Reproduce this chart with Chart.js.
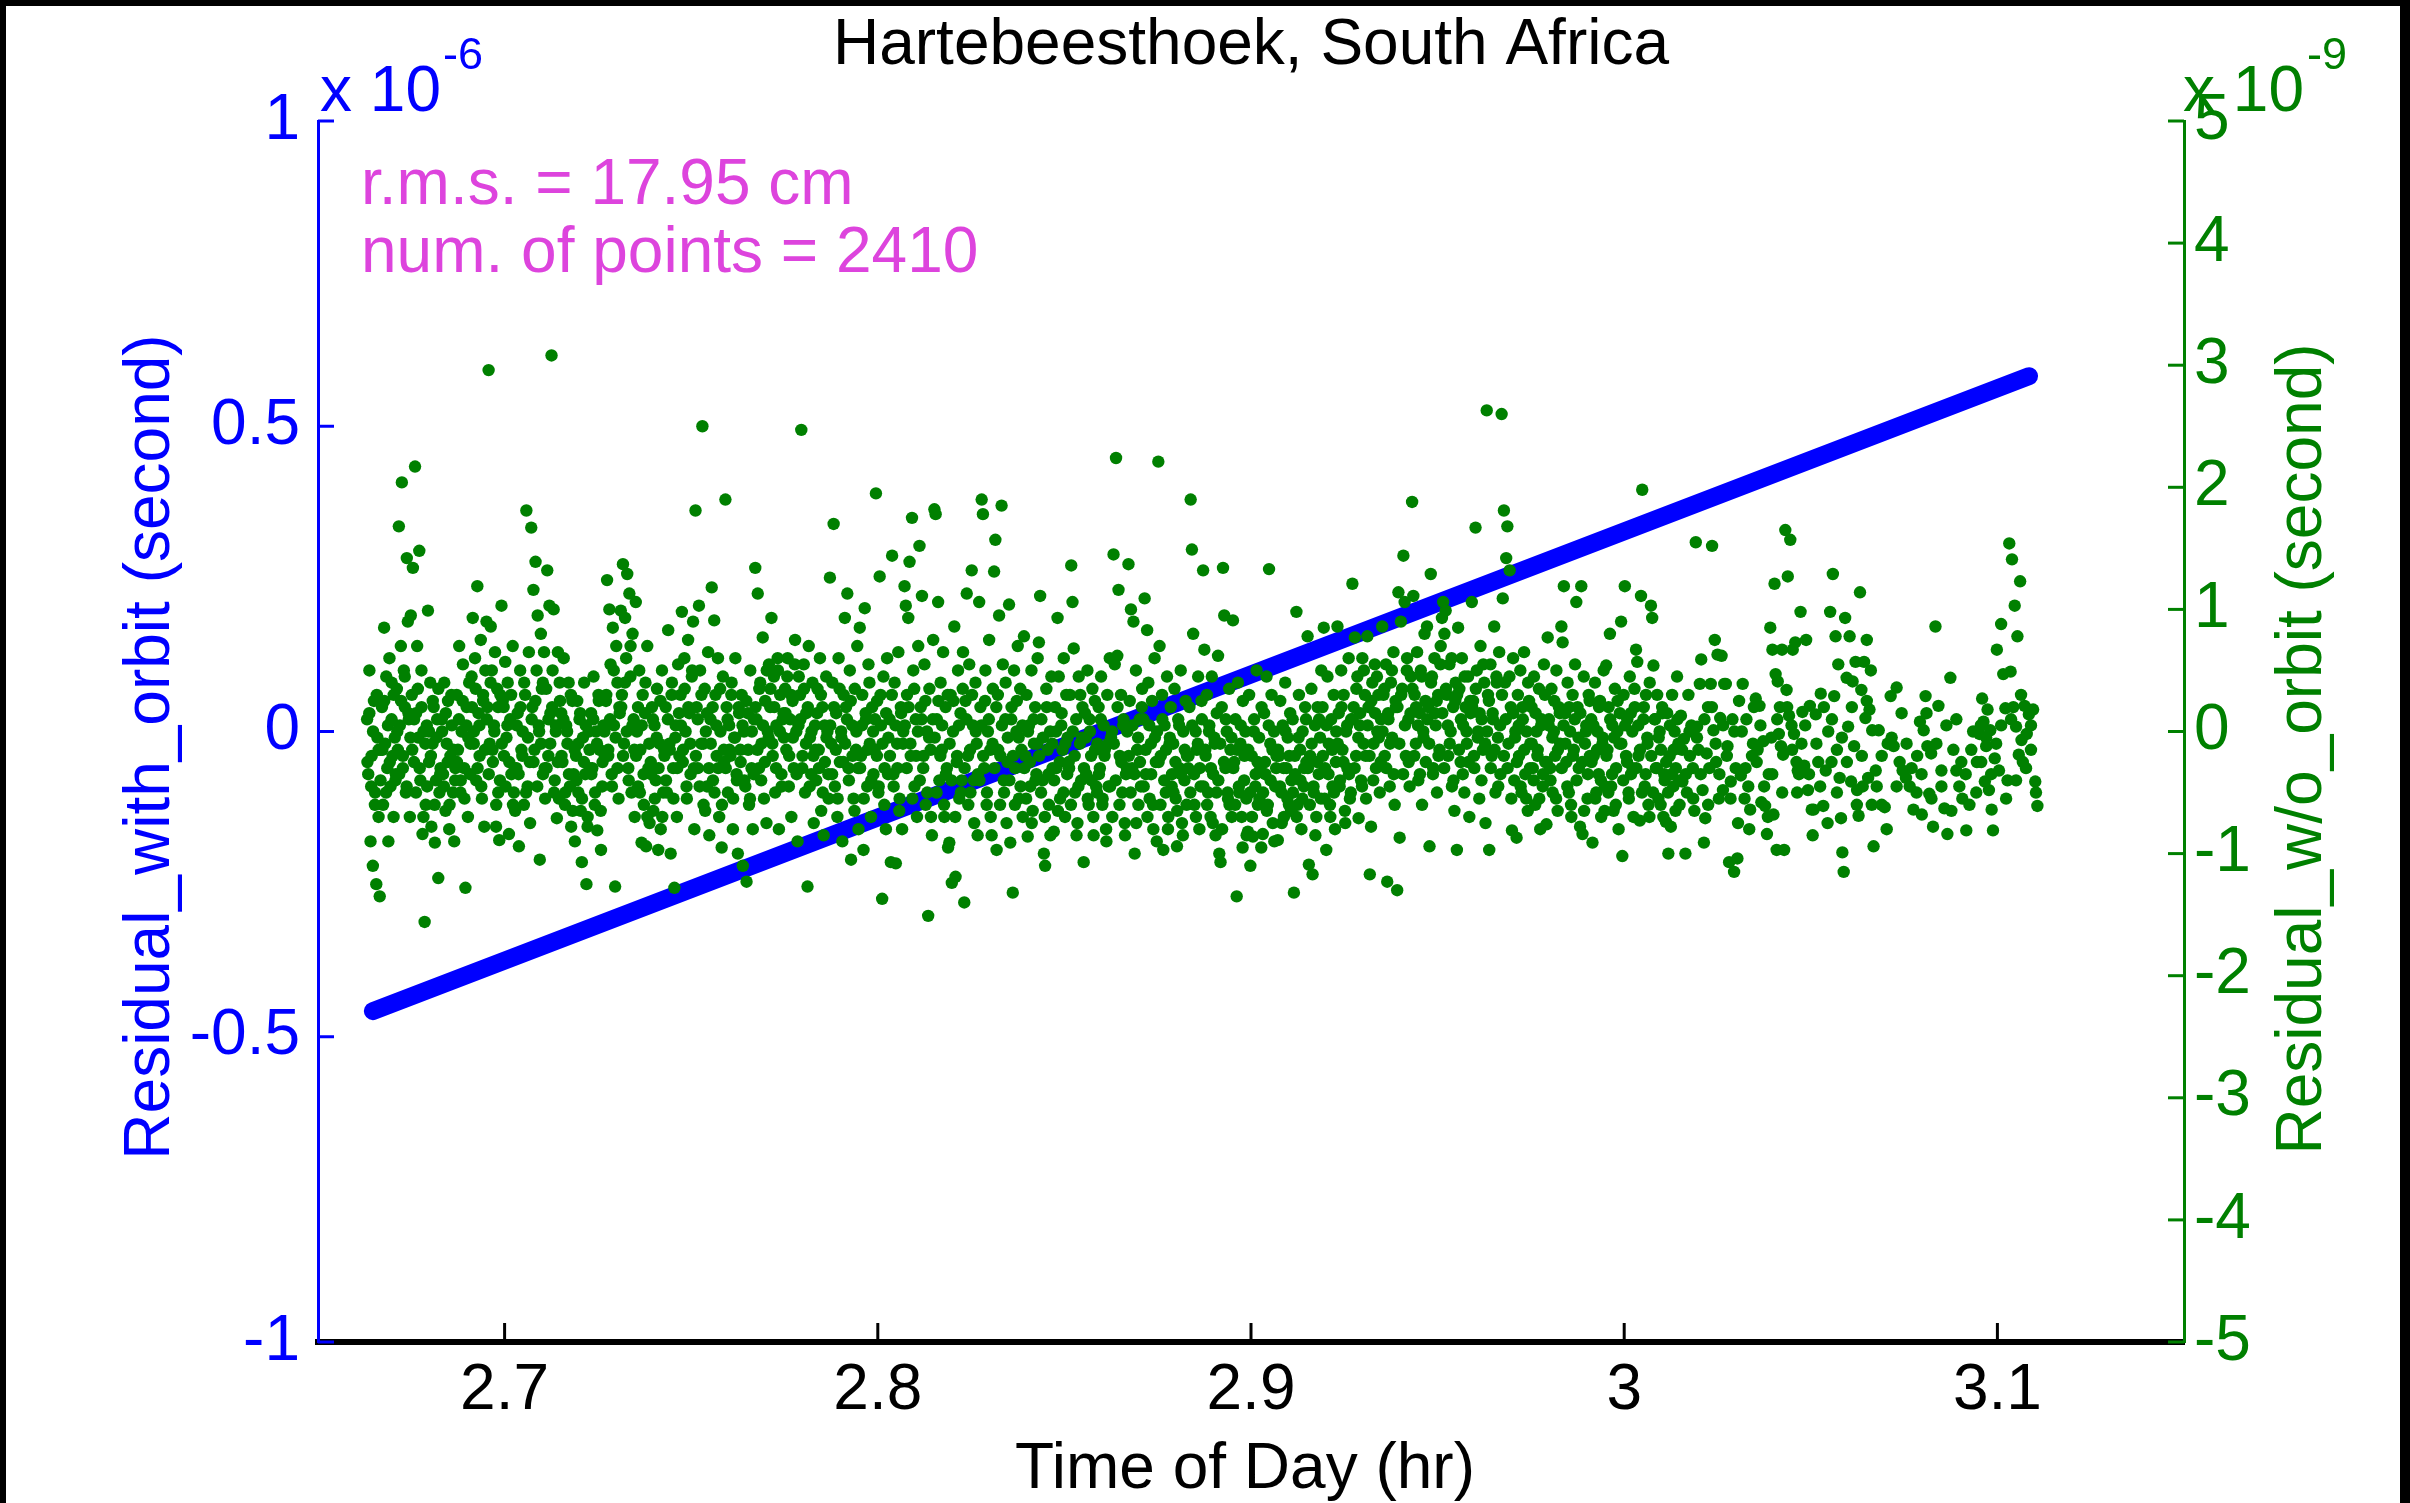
<!DOCTYPE html>
<html>
<head>
<meta charset="utf-8">
<title>Hartebeesthoek, South Africa</title>
<script src="https://cdn.jsdelivr.net/npm/chart.js@4.4.1/dist/chart.umd.min.js"></script>
<style>
  html, body { margin: 0; padding: 0; background: #000; }
  #wrap { position: absolute; left: 6px; top: 6px; width: 2394px; height: 1497px; background: #fff; }
</style>
</head>
<body>
<div id="wrap"><canvas id="chart"></canvas></div>
<script>
// Axis ticks
const xTicks = [2.7, 2.8, 2.9, 3.0, 3.1];
const xTickLabels = ['2.7', '2.8', '2.9', '3', '3.1'];
const leftTicks = [-1, -0.5, 0, 0.5, 1];
const leftTickLabels = ['-1', '-0.5', '0', '0.5', '1'];
const rightTicks = [-5, -4, -3, -2, -1, 0, 1, 2, 3, 4, 5];
const rightTickLabels = ['-5', '-4', '-3', '-2', '-1', '0', '1', '2', '3', '4', '5'];

// Residual_with_orbit (x 10^-6 s), read at both ends of the thick blue trace
const blueTimes = [2.6647, 3.1085];
const blueValues = [-0.458, 0.582];

// Residual_w/o_orbit (x 10^-9 s) in groups of 0.004 hr
// starting at 2.663 hr; values inside a group are in time order
const greenGroupStart = 2.663;
const greenGroupWidth = 0.004;
const greenGroups = [
  [0.1, -0.35, 0.5, -0.9, -0.2, -1.1, 0.25, -0.5, -1.25, -0.05, -0.7, -1.35, -0.15],
  [0.2, -0.6, 0.85, -0.1, 0.45, -0.3, -0.9, 0.6, -0.45, 0.1, -0.2, 0.3, -0.05, -0.35],
  [0.35, -0.15, 1.68, 0.05, 0.7, 2.04, -0.3, 0.5, 0.2, -0.5, 1.42, 0.9, 0.1, -0.7, 0.95],
  [0.3, 1.34, -0.25, 2.17, 0.15, 0.7, -0.05, 1.48, -0.4, 0.5, -0.84, 0.0, -1.56, -0.6],
  [0.05, 0.99, -0.25, 0.4, -0.78, -0.1, 0.2, -0.91, -0.4, 0.1, -1.2, -0.5, -0.3],
  [0.1, -0.35, 0.4, -0.65, -0.1, 0.25, -0.8, -0.2, 0.05, -0.5, -0.9, -0.3],
  [0.3, -0.15, 0.7, -0.5, 0.0, 0.55, -0.3, -1.28, 0.2, -0.7, 0.4, -0.1],
  [0.45, 0.93, 0.0, 0.6, -0.4, 1.19, 0.15, -0.2, 0.75, -0.55, 0.3, -0.78, 0.5],
  [0.9, 0.2, 2.96, -0.1, 0.86, 0.5, -0.25, 0.05, 0.65, -0.78, 0.35, -0.5, -0.89, 0.3],
  [1.03, 0.25, -0.2, 0.57, -0.05, 0.4, -0.84, 0.1, -0.35, 0.7, -0.5, -0.65],
  [-0.3, 0.15, -0.94, 0.5, -0.15, 0.0, -0.6, 0.3, 1.81, -0.45, 0.65, -0.75],
  [1.67, 0.2, 1.16, -0.15, 1.39, 0.5, 0.95, 0.05, -1.05, 0.8, 0.35, -0.35, 0.65, -0.55],
  [0.35, 1.32, -0.2, 1.03, 0.15, 3.08, 0.5, 1.0, -0.4, 0.0, -0.71, 0.65, -0.55, 0.25],
  [0.15, -0.25, 0.6, -0.6, 0.05, -0.1, 0.4, -0.45, -0.78, 0.25, -0.35, -0.9],
  [-0.2, 0.25, -0.5, 0.1, -0.65, -1.07, -0.05, 0.4, -0.35, -1.25, -0.78, 0.0, -0.3],
  [0.15, -0.3, 0.45, -0.6, 0.0, -0.81, 0.3, -0.15, -0.97, -0.45, 0.05, -0.2],
  [0.25, 1.24, -0.15, 1.0, 0.55, -0.35, 0.85, 0.05, -1.27, 0.7, 0.4, -0.55, 0.15],
  [0.99, 0.3, 1.37, -0.1, 0.93, 0.6, 1.29, -0.3, 1.13, 0.45, -0.5, 0.8, 0.1, -0.7],
  [1.06, 0.0, -0.45, 0.5, -0.15, -0.91, 0.3, -0.6, 0.15, -0.94, 0.7, -0.3, -0.75],
  [-0.25, 0.2, -0.65, 0.05, -0.4, 0.35, -0.97, -0.1, -0.8, 0.5, -0.5, -0.2],
  [0.2, -0.5, 0.83, -0.1, -1.0, 0.4, -0.3, -1.28, 0.05, -0.7, 0.55, -0.2],
  [0.3, 0.98, -0.15, 0.6, 0.0, -0.55, 0.75, 0.15, -0.35, 0.45, 0.9, -0.8],
  // 2.751 hr
  [1.81, 0.2, -0.3, 1.03, 0.5, -0.1, 2.5, -0.6, 0.35, 0.0, -0.45, 0.65, -0.85],
  [0.1, 1.18, -0.4, 0.91, 0.3, -0.2, 0.6, -0.7, 0.0, -0.95, 0.45, -0.25],
  [1.9, 0.2, -0.5, 0.05, -0.2, 0.4, -0.8, -0.05, 0.6, -0.35, -1.0, 0.15],
  [-0.15, 0.3, -1.1, 0.0, -0.45, -1.23, 0.15, -0.6, 0.5, -0.3, -0.8, 0.1],
  [1.34, 0.1, 1.13, -0.3, 0.4, -0.1, 0.77, -0.55, 0.25, -0.75, 0.0, 0.55],
  [0.2, 0.93, -0.2, 0.45, -0.5, 0.05, 0.6, -0.8, 0.3, -0.35, 0.1, -0.05],
  [0.35, -0.15, 0.6, -0.45, 0.1, -0.7, 0.25, -0.3, 0.75, 0.0, -0.9, 0.45],
  [0.3, 2.47, -0.2, 0.55, -0.5, 0.15, -1.27, 0.7, -0.05, -0.35, 0.4, -0.75],
  [0.05, -0.4, 0.35, -0.15, 0.6, -0.65, 0.2, -0.85, -0.25, 0.45, 0.0, -0.55],
  [1.26, -0.1, 0.4, 1.7, -0.45, 0.15, -0.7, 0.6, -0.25, 0.0, -0.9, 0.3],
  [0.93, 0.2, 1.13, -0.3, 0.5, -1.05, 0.05, -0.55, 0.35, -0.15, 0.7, -0.8],
  [0.85, -0.2, 0.3, -0.97, 1.01, 0.1, -0.45, 0.55, -0.1, -0.7, 0.2, -0.35],
  [-0.15, 1.95, 0.25, -0.5, 1.27, 0.05, -1.37, 0.45, -0.3, -0.8, 0.6, -0.05],
  [0.1, -1.07, 1.44, -0.35, 0.4, -1.08, -0.1, 0.65, -0.55, 0.2, -0.8, 0.0],
  [1.19, 1.03, 0.3, 0.93, 1.39, -0.2, 1.75, 0.5, -0.45, 0.1, -0.7, 0.7],
  [1.52, 0.2, 1.11, -0.3, 0.55, -0.6, 0.0, -1.51, 0.35, -0.15, -0.85, 0.75],
  [1.82, 1.78, 0.1, 1.06, -0.4, 0.4, -0.15, 0.65, -0.7, 0.2, -0.3, -0.95],
  [-0.91, 0.3, -1.24, 0.0, 0.86, -1.19, -0.25, 0.5, -0.55, 0.15, -0.4, 0.65],
  [-1.4, 0.25, 1.13, -0.2, 0.55, -0.5, 1.32, 0.05, -0.75, 0.4, -0.1, -0.35],
  [1.06, 0.2, 1.9, 1.78, -0.3, 0.5, -0.6, 0.0, 0.75, -0.15, -0.85, 0.35],
  [1.31, 1.57, -0.97, 0.3, 0.95, -0.2, 1.85, 0.55, -0.5, 0.1, -0.75, -0.05],
  [1.04, -0.91, 0.2, -1.32, 0.5, -0.3, 0.0, 0.7, -0.55, 0.35, -0.15, -0.7],
  // 2.839 hr
  [0.78, -0.2, 0.3, -0.86, 0.05, -0.45, 0.5, -0.65, -0.1, 0.2, -0.35, 0.6],
  [0.73, 1.11, 0.1, -0.4, -1.0, -1.1, 0.35, -0.15, -0.6, 0.0, 0.45, -0.3],
  [-0.82, 0.2, -0.3, 0.93, 0.45, -0.55, 0.05, -0.15, 0.6, -0.7, 0.3, -0.05],
  [-0.25, 0.3, 1.36, 1.06, 0.68, -0.5, 0.1, -0.75, 0.45, -0.1, -0.4, 0.2],
  [-1.07, 0.15, -0.35, 0.5, -0.6, 0.0, -0.2, 0.35, -0.85, 0.25, -0.45, -0.1],
  [0.2, -0.3, 0.45, -0.6, 0.05, -0.15, -0.8, 0.3, -0.45, 0.6, -0.05, -0.7],
  [1.45, 0.55, 2.24, 0.62, 1.16, -0.2, 0.3, -0.5, 0.1, -0.75, -0.35, 0.0],
  [1.37, 0.25, 1.0, -0.3, 0.9, -1.0, 0.5, -0.15, -0.6, 0.1, -0.45, 0.35],
  [0.1, 1.09, -0.35, 0.83, 0.4, -0.55, -0.1, 0.25, -0.8, 0.6, -0.25, 0.0],
  [2.21, 0.7, -0.2, 0.3, -0.97, 0.05, -0.5, 0.45, -0.7, -0.1, 0.2, -0.35],
  [-0.1, 0.35, -0.55, -0.94, 0.1, -0.3, 0.5, -0.75, 0.0, -0.4, 0.25, -0.2],
  [-0.3, 0.2, 1.9, 1.49, 0.8, -0.6, 0.0, -0.15, 0.45, -0.8, -0.45, 0.1],
  [1.32, 0.67, -0.2, 0.3, -0.5, 0.05, -0.7, 0.45, -0.35, -0.05, -0.85, 0.15],
  [0.62, -1.0, -1.07, 0.2, 1.34, 0.95, -0.3, 0.0, -0.55, 0.35, -0.15, -0.7],
  [0.91, -0.25, 0.1, -1.35, 0.4, -0.5, -0.1, -0.7, 0.25, -0.4, 0.0, -0.85],
  [-0.82, 0.3, -1.1, -0.2, -0.86, 0.1, -0.45, 0.5, -0.6, -0.05, -0.3, 0.2],
  [-0.84, 0.15, -0.35, 0.45, -0.6, 1.33, -0.1, 0.3, -0.75, 0.0, -0.45, -0.2],
  [-0.89, -0.2, 0.25, -0.5, 0.05, -0.7, 0.4, -0.3, -0.05, -0.6, 0.15, -0.4],
  [0.1, -1.32, -0.35, 0.98, -0.6, 0.3, -0.15, -0.8, 0.0, -0.45, 0.2, -0.25],
  [0.78, -1.09, -0.2, 0.35, -1.17, -0.5, 0.05, -0.7, 0.2, -0.35, -0.05, 0.5],
  [0.2, 0.85, -0.3, -0.97, 0.45, -0.1, -0.6, 0.1, -0.45, 0.3, -0.8, 0.0],
  [0.86, 0.15, -0.4, 0.5, -0.15, 0.3, -0.65, 0.0, -0.3, 0.6, -0.55, 0.1],
  // 2.927 hr
  [1.21, 0.2, 0.77, -0.2, 0.45, -0.71, 0.05, -0.4, 0.6, -0.1, 0.3, -0.55],
  [0.78, 0.2, -1.17, -0.78, 0.4, -0.1, 0.55, -0.3, 0.0, 0.3, -0.5, 0.1],
  [0.86, 0.3, -0.2, 0.55, -1.23, 0.1, -0.45, 0.4, -0.05, 0.65, -0.6, 0.2],
  [-1.3, 1.14, -0.87, 0.9, 0.35, 1.44, 1.06, -0.2, 0.6, 0.1, -0.45, 0.45],
  [1.88, 1.11, 0.3, -0.1, 0.65, -0.4, 0.15, 0.5, -0.6, 0.0, 0.8, -0.25],
  [0.86, 0.2, -0.94, 1.29, 0.45, -0.3, 0.6, 0.05, -0.5, 0.3, -0.15, 0.7],
  [0.93, 1.06, 0.8, 0.99, 0.3, -0.2, 0.55, 0.0, -0.45, 0.2, -0.65, 0.4],
  [-0.97, 0.85, 0.35, -0.25, 0.6, 0.05, -0.5, 0.2, -0.1, 0.45, -0.7, 0.15],
  [1.06, 0.25, -0.3, 1.67, 0.5, 0.0, -0.55, 0.7, 0.1, -0.15, 0.4, -0.75],
  [2.63, 0.3, -0.97, 0.55, -0.2, 0.1, 0.86, -0.5, 0.4, -0.05, 0.65, -0.35],
  [2.6, 1.09, 1.81, 0.4, 1.42, 1.68, -0.1, 1.32, 0.2, -0.81, 0.6, -0.4, 0.0],
  [-0.87, 0.3, -0.2, 0.5, -0.5, 0.1, 0.65, -0.35, 0.0, -0.65, 0.25, -0.1],
  [0.2, -0.3, 0.45, -0.6, 0.0, -0.15, 0.35, -0.8, 0.1, -0.45, 0.55, -0.25],
  [-0.76, 0.77, 0.1, -0.3, 0.35, -0.5, 0.0, -0.2, 0.5, -0.65, 0.2, -0.1],
  [0.86, 0.73, 1.19, 0.15, -0.25, 0.4, -0.5, 0.0, -0.7, 0.3, -0.15, 0.55],
  [1.06, 0.2, -0.3, -0.78, 1.19, -0.84, 0.45, -0.1, 0.05, -0.55, 0.3, -0.2],
  [0.1, -0.91, -0.2, 0.4, -0.5, 0.0, -0.35, 0.25, -0.7, -0.1, 0.5, -0.45],
  [0.54, -0.15, 0.2, 0.8, -0.45, 0.05, -0.65, 0.35, -0.3, 0.0, -0.8, 0.15],
  [0.9, -1.02, 0.3, 1.19, -0.2, 0.1, -0.5, 0.45, -0.35, 0.0, -0.7, 0.2],
  [0.67, 0.57, -0.2, -0.73, 1.11, 1.98, 0.1, -0.45, 0.3, -0.05, -0.6, 0.4],
  [1.03, 0.93, 0.54, 0.1, -0.3, 0.3, -0.55, 0.0, -0.15, 0.2, -0.7, -0.4],
  [-0.74, 0.15, -1.0, -0.2, -0.78, 0.3, -0.45, 0.0, -0.3, 0.45, -0.1, -0.6],
  // 3.015 hr
  [0.13, -0.41, -0.06, -1.0, -0.5, 0.3, -0.2, 0.05, -0.3, -0.65],
  [1.55, 0.04, -0.15, 0.39, 0.59, -0.48, -0.91, -0.71, -0.18, 0.2, -0.3],
  [0.39, 1.52, 0.01, 0.75, -0.25, 0.63, -0.55, 0.11, 0.62, -0.48, 0.39],
  [0.39, -0.12, -1.07, -0.41, 0.1, -1.15, -0.3, -1.04, 0.25],
  [-0.36, 0.39, -0.55, 0.1, -0.45, -0.64, -0.2, 0.2],
  [0.27, -0.15, 0.21, -0.58, -0.08, -0.61, -0.84, -0.35],
  [0.85, -0.05, 0.67, -0.68, 1.21, 0.47, -0.97, 0.41, -0.02, 0.2, -0.12, 0.67, -0.19, -0.97],
  [1.65, 0.34, 1.27, 0.13, 1.57, 0.05, 0.67, -0.02, 0.73, -0.25, -0.32, -0.35],
  [0.98, 0.16, -0.28, 0.75, -0.48, 0.21, -0.64, -0.64],
  [0.14, -0.25, 0.31, -0.61, -0.32, 0.0],
  [0.98, -0.25, 1.29, 0.29, 0.78, -0.15, 0.55, -0.38, -0.71, -0.99, -1.15],
  [0.93, 0.44, 0.04, 0.78, -0.41, 0.41, -0.12, 0.57, -0.48, -0.69],
  [1.14, 0.34, -0.45, 0.57, 0.11, 0.75, -0.38, 0.18, 0.5, 0.01, -0.94],
  [-0.32, 0.01, -0.6, -0.62, -0.1],
  [0.29, -0.12, 0.36, -0.25, -0.32],
  [-0.38, -0.45, -0.64, -0.2],
  [0.08, -0.68, 0.01, 0.29, -0.12, -0.51, -0.18, -0.78],
  [0.86, 0.21, -0.32, -0.63, -0.84],
  [0.44, -0.15, -0.32, -0.45, -0.55],
  [-0.81, -0.15, -0.5],
  [-0.02, 0.05, 0.27, 0.08, -0.41, -0.12, 0.18, -0.48, 0.01, -0.64, -0.81],
  [-0.22, 0.67, -0.32, 0.88, 0.47, 0.19, -0.4],
  [1.54, 0.49, 1.41, 0.2, 1.03, 0.04, 0.78, -0.19, 1.23, -0.07, -0.25],
  [0.21, -0.02, 0.14, -0.15, 0.18, -0.41, -0.61]
];

// second reading of the crowded middle of the band, same groups
const greenCoreGroups = [
  [-0.25, 0.15, -0.45, 0.0, -0.6, 0.3, -0.15, -0.4],
  [-0.15, 0.25, -0.5, 0.05, -0.25, 0.4, -0.7, -0.4],
  [0.0, -0.35, 0.25, -0.2, 0.45, -0.45, 0.15, -0.05],
  [-0.15, 0.1, -0.5, 0.35, -0.3, 0.2, -0.7, -0.1],
  [-0.45, 0.0, -0.2, 0.25, -0.6, -0.05, 0.35, -0.35],
  [0.0, -0.45, 0.15, -0.25, -0.6, 0.3, -0.15, -0.4],
  [-0.25, 0.1, -0.4, 0.25, -0.55, 0.05, -0.05, -0.35],
  [0.2, -0.1, 0.35, -0.3, 0.05, -0.45, 0.25, -0.15],
  [0.1, -0.35, 0.4, -0.15, 0.0, -0.6, 0.2, -0.4],
  [-0.1, 0.2, -0.45, 0.05, -0.25, 0.3, -0.6, -0.3],
  [0.05, -0.35, 0.2, -0.2, 0.4, -0.5, -0.05, -0.25],
  [0.1, -0.25, 0.25, -0.45, 0.0, -0.1, 0.4, -0.3],
  [-0.3, 0.1, -0.1, 0.2, -0.5, 0.05, -0.25, 0.4],
  [-0.2, 0.1, -0.5, 0.0, -0.35, 0.3, -0.65, -0.15],
  [-0.4, -0.1, 0.15, -0.55, -0.25, 0.05, -0.7, -0.15],
  [-0.35, 0.1, -0.5, -0.1, 0.25, -0.65, -0.25, 0.0],
  [0.3, -0.2, 0.1, -0.45, 0.5, -0.05, -0.3, 0.2],
  [0.2, -0.2, 0.4, 0.0, -0.4, 0.7, 0.05, -0.15],
  [-0.2, 0.2, -0.5, 0.05, -0.35, 0.4, -0.7, -0.1],
  [-0.35, 0.1, -0.55, -0.05, -0.3, 0.25, -0.7, -0.15],
  [-0.4, 0.1, -0.15, 0.3, -0.55, -0.05, -0.3, 0.15],
  [0.05, -0.25, 0.35, -0.45, 0.2, -0.1, 0.5, -0.3],
  // 2.751 hr
  [-0.2, 0.1, -0.45, 0.3, -0.1, -0.65, 0.15, -0.3],
  [-0.1, 0.2, -0.5, 0.05, -0.3, 0.35, -0.6, -0.15],
  [-0.3, 0.1, -0.15, 0.3, -0.55, -0.05, -0.4, 0.2],
  [-0.25, 0.05, -0.4, 0.25, -0.15, -0.55, 0.0, -0.35],
  [0.2, -0.15, 0.35, -0.4, 0.05, -0.25, 0.5, -0.05],
  [0.35, -0.1, 0.2, -0.3, 0.5, 0.0, -0.45, 0.15],
  [0.15, 0.45, -0.2, 0.3, -0.05, 0.55, -0.35, 0.05],
  [0.1, -0.3, 0.35, -0.1, 0.2, -0.45, 0.0, -0.2],
  [-0.15, 0.15, -0.3, 0.3, -0.5, 0.05, -0.05, -0.35],
  [0.05, -0.35, 0.2, -0.15, -0.55, 0.35, -0.05, -0.25],
  [-0.1, 0.1, -0.4, 0.25, -0.2, -0.65, 0.0, -0.3],
  [-0.3, 0.05, -0.55, 0.15, -0.15, 0.4, -0.4, 0.0],
  [0.1, -0.2, -0.45, 0.3, -0.1, -0.6, 0.15, -0.35],
  [-0.2, 0.3, -0.45, 0.05, -0.3, -0.65, 0.15, -0.1],
  [0.05, -0.3, 0.2, -0.1, -0.55, 0.35, -0.2, 0.0],
  [-0.4, 0.1, -0.2, 0.25, -0.5, -0.05, -0.7, 0.1],
  [-0.05, -0.5, 0.25, -0.2, 0.05, -0.6, -0.35, 0.3],
  [-0.1, -0.4, 0.25, -0.7, -0.2, 0.05, -0.5, 0.35],
  [-0.3, 0.1, -0.6, -0.15, 0.3, -0.4, 0.0, -0.85],
  [-0.4, 0.05, -0.2, 0.25, -0.5, 0.1, -0.7, -0.1],
  [-0.3, 0.2, -0.15, -0.6, 0.05, -0.4, 0.4, -0.25],
  [-0.4, 0.1, -0.2, -0.6, 0.25, -0.05, -0.45, 0.05],
  // 2.839 hr
  [-0.3, -0.55, 0.0, -0.25, -0.75, 0.1, -0.4, -0.1],
  [-0.2, -0.5, -0.05, -0.7, 0.2, -0.35, -0.85, -0.1],
  [-0.4, 0.0, -0.65, -0.25, 0.15, -0.5, -0.1, -0.35],
  [-0.3, -0.6, 0.0, -0.2, -0.85, -0.45, 0.3, -0.05],
  [-0.3, -0.05, -0.55, 0.1, -0.4, -0.7, -0.15, -0.5],
  [-0.35, 0.1, -0.55, -0.2, -0.9, -0.1, -0.45, 0.0],
  [-0.1, -0.4, 0.2, -0.6, -0.25, 0.05, -0.85, -0.3],
  [-0.2, -0.5, 0.05, -0.35, -0.75, -0.05, -0.25, 0.2],
  [-0.45, -0.15, -0.7, 0.05, -0.35, -0.6, -0.05, -0.9],
  [-0.25, -0.6, 0.1, -0.4, -0.15, -0.8, -0.05, -0.45],
  [-0.5, -0.25, -0.65, 0.05, -0.35, -0.85, -0.15, -0.6],
  [-0.2, -0.5, 0.05, -0.35, -0.7, -0.1, -0.3, 0.25],
  [-0.45, -0.15, -0.6, 0.0, -0.3, -0.75, -0.1, -0.5],
  [-0.4, -0.1, -0.8, -0.25, 0.1, -0.5, -0.6, -0.05],
  [-0.3, -0.6, -0.15, -0.45, 0.05, -0.95, -0.2, -0.55],
  [-0.15, -0.5, -0.7, 0.0, -0.35, -0.25, -0.55, -0.95],
  [-0.5, -0.25, -0.65, 0.05, -0.4, -0.15, -0.9, -0.3],
  [-0.15, -0.45, -0.75, -0.3, 0.0, -0.55, -0.2, -0.65],
  [-0.5, -0.2, -0.7, -0.05, -0.4, -0.55, -0.3, 0.1],
  [-0.3, -0.6, -0.1, -0.45, -0.85, -0.25, 0.1, -0.55],
  [-0.2, -0.55, 0.05, -0.35, -0.7, -0.15, -0.5, -0.25],
  [-0.1, -0.45, 0.2, -0.25, -0.75, 0.05, -0.35, -0.5],
  // 2.927 hr
  [0.1, -0.3, 0.35, -0.05, 0.15, -0.45, 0.5, -0.2],
  [0.05, -0.2, 0.25, -0.4, 0.15, 0.45, -0.05, -0.25],
  [0.0, 0.35, -0.3, 0.15, -0.1, 0.5, -0.35, 0.25],
  [0.2, -0.1, 0.3, -0.35, 0.05, 0.5, -0.25, 0.15],
  [0.35, -0.2, 0.2, 0.05, -0.35, 0.45, -0.05, 0.25],
  [0.1, -0.1, 0.4, -0.35, 0.15, 0.25, -0.2, 0.55],
  [0.15, -0.3, 0.35, 0.05, -0.1, 0.6, -0.4, 0.25],
  [0.3, -0.15, 0.1, -0.35, 0.45, 0.0, -0.25, 0.25],
  [0.2, -0.2, 0.35, -0.05, 0.15, -0.4, 0.55, -0.1],
  [0.0, 0.25, -0.3, 0.15, -0.15, 0.45, -0.45, 0.05],
  [0.3, -0.2, 0.1, -0.3, 0.45, -0.55, 0.15, -0.05],
  [-0.25, 0.05, -0.45, 0.2, -0.15, -0.55, 0.4, -0.3],
  [-0.1, -0.4, 0.15, -0.2, -0.55, 0.05, -0.35, 0.3],
  [-0.25, 0.05, -0.4, -0.05, 0.25, -0.55, -0.15, 0.15],
  [-0.3, 0.05, -0.1, -0.45, 0.2, -0.6, -0.2, 0.1],
  [-0.4, -0.05, 0.15, -0.25, -0.65, 0.0, -0.35, 0.25],
  [-0.25, 0.05, -0.55, -0.15, 0.2, -0.4, -0.05, -0.65],
  [-0.2, -0.5, 0.1, -0.35, -0.05, -0.6, 0.25, -0.1],
  [-0.1, -0.4, 0.05, -0.25, -0.55, 0.15, -0.3, 0.35],
  [-0.3, 0.05, -0.15, -0.5, 0.2, -0.35, -0.1, -0.7],
  [-0.2, -0.5, 0.1, -0.3, -0.05, -0.6, 0.15, -0.35],
  [-0.25, -0.5, 0.05, -0.35, -0.15, -0.65, 0.1, -0.4],
  // 3.015 hr
  [-0.15, -0.35, 0.0, -0.55],
  [-0.05, -0.35, 0.1, -0.6],
  [0.2, -0.1, -0.35, 0.05],
  [-0.2, -0.55, 0.0, -0.75],
  [0.0, -0.3, -0.8, -0.1],
  [-0.25, 0.05, -0.45, -0.7],
  [-0.35, 0.1, -0.5],
  [0.2, -0.15, -0.5],
  [-0.1, 0.05, -0.35, -0.85],
  [-0.1, -0.45, 0.2, -0.75],
  [0.1, -0.5, -0.05],
  [-0.25, 0.2, -0.6],
  [-0.2, 0.25, -0.6],
  [-0.45, -0.2, -0.8],
  [-0.05, -0.45, 0.15],
  [-0.1, -0.3, -0.5],
  [-0.35, 0.15, -0.55],
  [-0.1, -0.45, 0.05],
  [-0.65, 0.1, -0.25],
  [-0.35, -0.6, 0.0, -0.25],
  [-0.25, -0.05, -0.35],
  [-0.1, 0.05, -0.55],
  [0.1, -0.4, 0.3],
  [-0.3, 0.05, -0.5]
];

const FONT = '"Liberation Sans", Arial, Helvetica, sans-serif';
const BLUE = '#0000ff';
const GREEN = '#008000';
const MAGENTA = '#dd44dd';
const DOT = 6.2;

// spread each group's readings across its time slot
function groupPoints(groups) {
    const pts = [];
    groups.forEach((vals, i) => {
        const t0 = greenGroupStart + i * greenGroupWidth;
        vals.forEach((v, k) => {
            pts.push({ x: t0 + (k + 0.5) / vals.length * greenGroupWidth, y: v });
        });
    });
    return pts;
}
const greenPoints = groupPoints(greenGroups).concat(groupPoints(greenCoreGroups));
const bluePoints = blueTimes.map((t, i) => ({ x: t, y: blueValues[i] }));

function line(ctx, x1, y1, x2, y2) {
    ctx.beginPath();
    ctx.moveTo(x1, y1);
    ctx.lineTo(x2, y2);
    ctx.stroke();
}

// inward ticks, axis titles, exponents and the text box (MATLAB style)
const decorations = {
    id: 'decorations',
    afterDraw(chart) {
        const ctx = chart.ctx;
        const area = chart.chartArea;
        const sx = chart.scales.x, sy = chart.scales.y, sy2 = chart.scales.y2;
        const midX = (area.left + area.right) / 2;
        ctx.save();

        ctx.lineWidth = 3;
        ctx.strokeStyle = '#000';
        sx.ticks.forEach(t => {
            const px = sx.getPixelForValue(t.value);
            line(ctx, px, area.bottom, px, area.bottom - 19);
        });
        ctx.strokeStyle = BLUE;
        sy.ticks.forEach(t => {
            const py = sy.getPixelForValue(t.value);
            line(ctx, area.left, py, area.left + 16, py);
        });
        ctx.strokeStyle = GREEN;
        sy2.ticks.forEach(t => {
            const py = sy2.getPixelForValue(t.value);
            line(ctx, area.right, py, area.right - 16, py);
        });

        ctx.textBaseline = 'alphabetic';
        ctx.font = '64px ' + FONT;

        ctx.fillStyle = '#000';
        ctx.textAlign = 'center';
        ctx.fillText('Hartebeesthoek, South Africa', midX, 58);
        ctx.fillText('Time of Day (hr)', midX - 6, 1482);

        ctx.save();
        ctx.translate(163, 741);
        ctx.rotate(-Math.PI / 2);
        ctx.fillStyle = BLUE;
        ctx.fillText('Residual_with_orbit (second)', 0, 0);
        ctx.restore();

        ctx.save();
        ctx.translate(2315, 743);
        ctx.rotate(-Math.PI / 2);
        ctx.fillStyle = GREEN;
        ctx.fillText('Residual_w/o_orbit (second)', 0, 0);
        ctx.restore();

        // scale factors
        ctx.textAlign = 'left';
        const base = 'x 10';
        ctx.fillStyle = BLUE;
        ctx.fillText(base, area.left + 2, 105);
        let w = ctx.measureText(base).width;
        ctx.font = '45px ' + FONT;
        ctx.fillText('-6', area.left + 4 + w, 63);

        ctx.font = '64px ' + FONT;
        ctx.fillStyle = GREEN;
        ctx.fillText(base, area.right - 1, 105);
        w = ctx.measureText(base).width;
        ctx.font = '45px ' + FONT;
        ctx.fillText('-9', area.right + 2 + w, 63);

        ctx.font = '64px ' + FONT;
        ctx.fillStyle = MAGENTA;
        ctx.fillText('r.m.s. = 17.95 cm', area.left + 43, 198);
        ctx.fillText('num. of points = 2410', area.left + 43, 266);

        ctx.restore();
    }
};

Chart.defaults.font.family = FONT;
Chart.defaults.font.size = 64;

new Chart(document.getElementById('chart'), {
    type: 'scatter',
    data: {
        datasets: [
            {
                type: 'scatter',
                data: greenPoints,
                xAxisID: 'x',
                yAxisID: 'y2',
                pointRadius: DOT,
                pointHoverRadius: DOT,
                pointBorderWidth: 0,
                pointBorderColor: GREEN,
                pointBackgroundColor: GREEN,
                showLine: false,
                order: 0
            },
            {
                type: 'line',
                data: bluePoints,
                xAxisID: 'x',
                yAxisID: 'y',
                borderColor: BLUE,
                borderWidth: 18,
                borderCapStyle: 'round',
                pointRadius: 0,
                tension: 0,
                fill: false,
                order: 1
            }
        ]
    },
    options: {
        responsive: true,
        maintainAspectRatio: false,
        animation: false,
        events: [],
        elements: { point: { radius: DOT, borderWidth: 0 } },
        layout: { padding: { top: 115, left: 0, right: 0, bottom: 0 }, autoPadding: false },
        plugins: {
            legend: { display: false },
            tooltip: { enabled: false },
            title: { display: false }
        },
        scales: {
            x: {
                type: 'linear',
                position: 'bottom',
                min: 2.65,
                max: 3.15,
                afterBuildTicks: s => { s.ticks = xTicks.map(v => ({ value: v })); },
                afterFit: s => { s.height = 161; },
                grid: { display: true, drawOnChartArea: false, drawTicks: false },
                border: { display: true, color: '#000', width: 6 },
                ticks: {
                    color: '#000',
                    padding: 11,
                    maxRotation: 0,
                    autoSkip: false,
                    callback: (v, i) => xTickLabels[i]
                }
            },
            y: {
                type: 'linear',
                position: 'left',
                min: -1,
                max: 1,
                afterBuildTicks: s => { s.ticks = leftTicks.map(v => ({ value: v })); },
                afterFit: s => { s.width = 312; },
                grid: { display: true, drawOnChartArea: false, drawTicks: false },
                border: { display: true, color: BLUE, width: 3 },
                ticks: {
                    color: BLUE,
                    padding: 18,
                    autoSkip: false,
                    callback: (v, i) => leftTickLabels[i]
                }
            },
            y2: {
                type: 'linear',
                position: 'right',
                min: -5,
                max: 5,
                afterBuildTicks: s => { s.ticks = rightTicks.map(v => ({ value: v })); },
                afterFit: s => { s.width = 216; },
                grid: { display: true, drawOnChartArea: false, drawTicks: false },
                border: { display: true, color: GREEN, width: 3 },
                ticks: {
                    color: GREEN,
                    padding: 10,
                    autoSkip: false,
                    callback: (v, i) => rightTickLabels[i]
                }
            }
        }
    },
    plugins: [decorations]
});
</script>
</body>
</html>
